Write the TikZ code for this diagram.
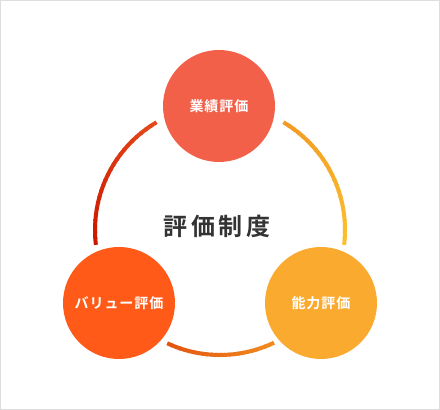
\documentclass[tikz,border=0pt]{standalone}
\usepackage{fontspec}
\newfontfamily\jpwide{Noto Sans CJK JP}[BoldFont=* Bold, LetterSpace=16]
\newfontfamily\jplabel{Noto Sans CJK JP}[BoldFont=* Bold, LetterSpace=7]
\usetikzlibrary{positioning}
\definecolor{topred}{HTML}{F2604A}
\definecolor{valorange}{HTML}{FF5A17}
\definecolor{skillyellow}{HTML}{FAAB2F}
\definecolor{textgray}{HTML}{333333}
\definecolor{framegray}{HTML}{DDDDDD}
\definecolor{leftA}{HTML}{E5481A}
\definecolor{leftB}{HTML}{CC1800}
\definecolor{rightA}{HTML}{F29A22}
\definecolor{rightB}{HTML}{FBBF2E}
\definecolor{lowA}{HTML}{E2540F}
\definecolor{lowB}{HTML}{F18A1E}

% arc on the ring: start angle, end angle, first colour, last colour
\newcommand{\ringarc}[4]{%
  \foreach \k in {0,...,23}{
    \pgfmathsetmacro{\angA}{#1+(#2-#1)*\k/24}
    \pgfmathsetmacro{\angB}{#1+(#2-#1)*(\k+1.3)/24}
    \pgfmathtruncatemacro{\mix}{100-100*\k/23}
    \draw[ringline, draw=#3!\mix!#4] ([shift={(\angA:125pt)}]ring) arc[start angle=\angA, end angle=\angB, radius=125pt];
  }
}

\begin{document}
\begin{tikzpicture}[
  x=1pt, y=1pt,
  ringline/.style={line width=4pt},
  evalcircle/.style={circle, minimum size=112pt, inner sep=0pt, text=white, font={\fontsize{14pt}{16pt}\jplabel\bfseries}},
  title/.style={text=textgray, font={\fontsize{24pt}{28pt}\jpwide\bfseries}}
]
  \useasboundingbox (0,0) rectangle (440,410);
  \draw[framegray, fill=white, line width=1pt] (0.5,0.5) rectangle (439.5,409.5);

  \coordinate (ring) at (220,180);
  \ringarc{120.5}{186}{leftA}{leftB}
  \ringarc{59.5}{-6}{rightA}{rightB}
  \ringarc{245}{295}{lowA}{lowB}

  \node[evalcircle, fill=topred] (result) at (219,304) {業績評価};
  \node[evalcircle, fill=valorange] (value) at (119,107) {バリュー評価};
  \node[evalcircle, fill=skillyellow] (skill) at (321,107) {能力評価};
  \node[title] (system) at (217,184) {評価制度};
\end{tikzpicture}
\end{document}
